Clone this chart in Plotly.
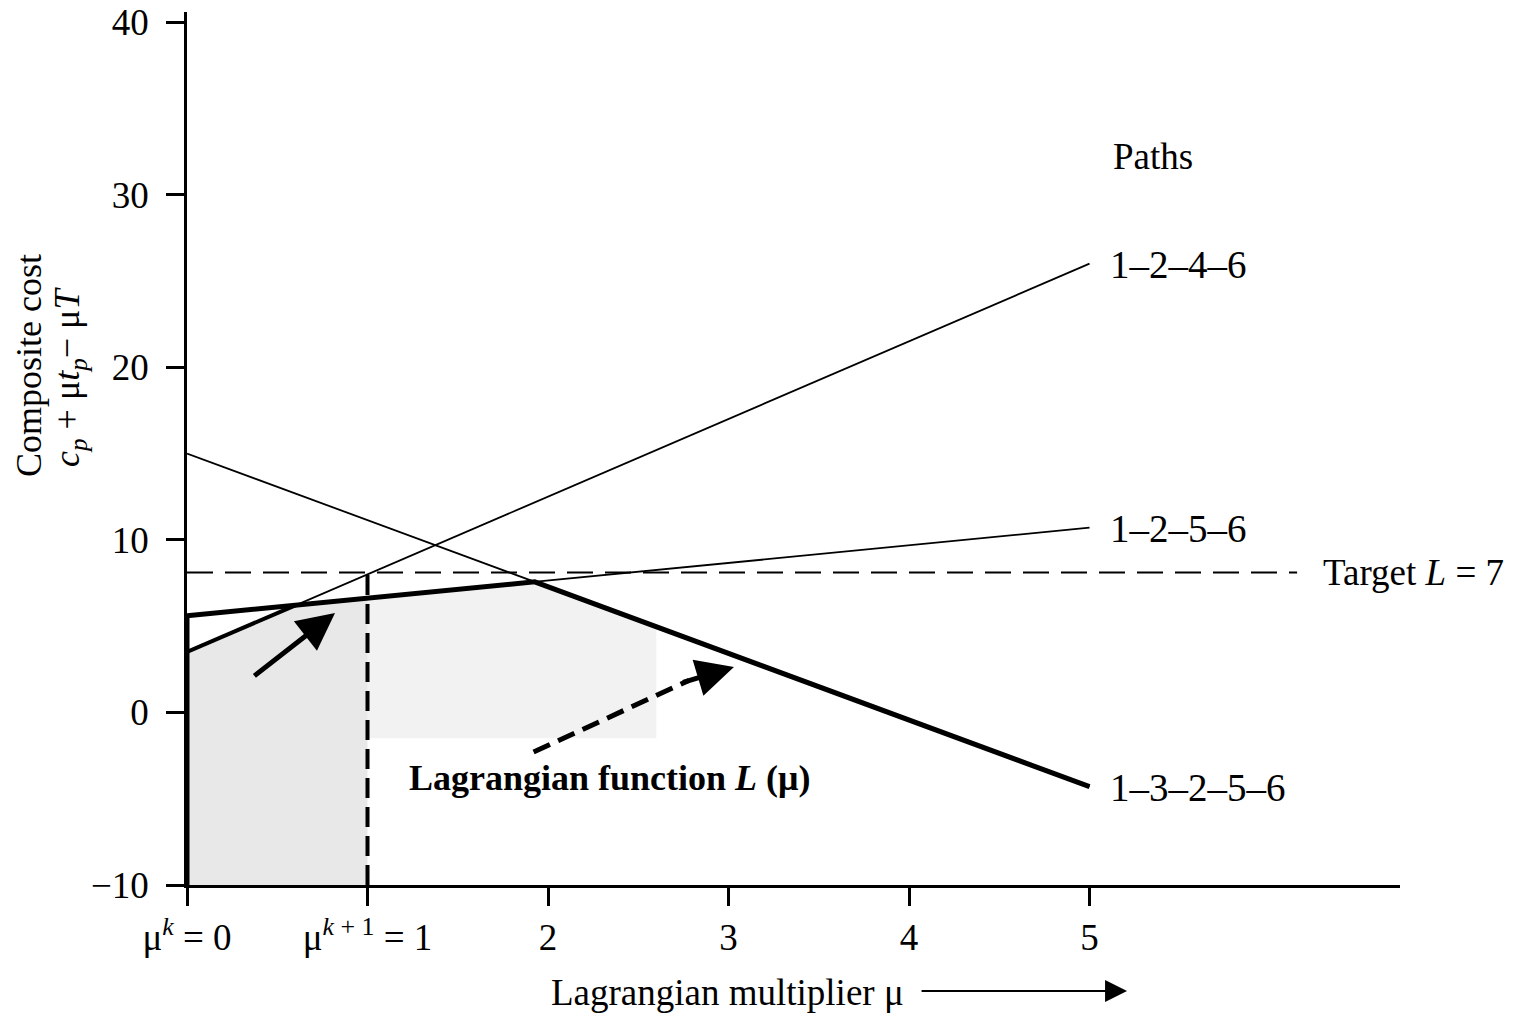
import plotly.graph_objects as go

# ---- data ----
mu_ends = [0, 5]
path_names = ["1–2–4–6", "1–2–5–6", "1–3–2–5–6"]
path_1246 = [3.5, 26.0]
path_1256 = [5.6, 10.7]
path_13256 = [15.0, -4.3]
target_level = 8.1
target_mu_end = 6.15
mu_k = 0
mu_k1 = 1
x_tick_vals = [0, 1, 2, 3, 4, 5]
x_tick_text = ["μ<sup><i>k</i></sup> = 0", "μ<sup><i>k</i> + 1</sup> = 1", "2", "3", "4", "5"]
y_tick_vals = [-10, 0, 10, 20, 30, 40]
y_tick_text = ["−10", "0", "10", "20", "30", "40"]

FONT = "Liberation Serif"
FS = 37


def val(line, m):
    a, b = line
    return a + (b - a) * (m - mu_ends[0]) / (mu_ends[1] - mu_ends[0])


def cross(l1, l2):
    s1 = (l1[1] - l1[0]) / (mu_ends[1] - mu_ends[0])
    s2 = (l2[1] - l2[0]) / (mu_ends[1] - mu_ends[0])
    m = (l2[0] - l1[0]) / (s1 - s2)
    return m, val(l1, m)


m_a, v_a = cross(path_1246, path_1256)
m_b, v_b = cross(path_1256, path_13256)

fig = go.Figure()

# shading under the Lagrangian function
shade_end = 2.6
lag_x = [0, m_a, mu_k1]
lag_y = [val(path_1246, 0), v_a, val(path_1256, mu_k1)]
fig.add_trace(go.Scatter(
    x=[0] + lag_x + [mu_k1, 0], y=[-10] + lag_y + [-10, -10],
    fill="toself", fillcolor="rgba(0,0,0,0.09)", line=dict(width=0),
    mode="lines", hoverinfo="skip", showlegend=False))
lag2_x = [mu_k1, m_b, shade_end]
lag2_y = [val(path_1256, mu_k1), v_b, val(path_13256, shade_end)]
fig.add_trace(go.Scatter(
    x=lag2_x + [shade_end, mu_k1], y=lag2_y + [-1.5, -1.5],
    fill="toself", fillcolor="rgba(0,0,0,0.05)", line=dict(width=0),
    mode="lines", hoverinfo="skip", showlegend=False))

# thin full path lines
for ln in (path_1246, path_1256, path_13256):
    fig.add_trace(go.Scatter(x=mu_ends, y=ln, mode="lines",
                             line=dict(color="black", width=1.8),
                             hoverinfo="skip", showlegend=False))

# target dashed line
fig.add_trace(go.Scatter(x=[0, target_mu_end], y=[target_level, target_level], mode="lines",
                         line=dict(color="black", width=2, dash="26px,12px"),
                         hoverinfo="skip", showlegend=False))

# vertical dashed line at mu^{k+1}
fig.add_trace(go.Scatter(x=[mu_k1, mu_k1], y=[-10, target_level], mode="lines",
                         line=dict(color="black", width=4, dash="20px,9px"),
                         hoverinfo="skip", showlegend=False))

# thick Lagrangian segments
fig.add_trace(go.Scatter(x=[0, m_b, mu_ends[1]],
                         y=[val(path_1256, 0), v_b, val(path_13256, mu_ends[1])],
                         mode="lines", line=dict(color="black", width=5),
                         hoverinfo="skip", showlegend=False))
fig.add_trace(go.Scatter(x=[0, m_a], y=[val(path_1246, 0), v_a],
                         mode="lines", line=dict(color="black", width=4),
                         hoverinfo="skip", showlegend=False))
fig.add_trace(go.Scatter(x=[mu_k, mu_k], y=[-10, val(path_1256, 0)],
                         mode="lines", line=dict(color="black", width=5),
                         hoverinfo="skip", showlegend=False))

# dashed arrow shaft
fig.add_trace(go.Scatter(x=[1.92, 2.78], y=[-2.3, 1.85], mode="lines",
                         line=dict(color="black", width=5, dash="18px,9px"),
                         hoverinfo="skip", showlegend=False))

annotations = []
# solid arrow
annotations.append(dict(x=0.82, y=5.76, ax=0.365, ay=2.05, xref="x", yref="y",
                        axref="x", ayref="y", showarrow=True, arrowhead=2,
                        arrowsize=1.5, arrowwidth=5, arrowcolor="black", text=""))
# dashed arrow head
annotations.append(dict(x=3.03, y=2.63, ax=2.74, ay=1.72, xref="x", yref="y",
                        axref="x", ayref="y", showarrow=True, arrowhead=2,
                        arrowsize=1.5, arrowwidth=5, arrowcolor="black", text=""))
# Lagrangian function label
annotations.append(dict(x=2.34, y=-3.8, xref="x", yref="y", showarrow=False,
                        xanchor="center", yanchor="middle",
                        text="<b>Lagrangian function <i>L</i> (μ)</b>",
                        font=dict(family=FONT, size=36, color="black")))
# path labels
label_y = [val(path_1246, 5), val(path_1256, 5), val(path_13256, 5)]
for name, yy in zip(path_names, label_y):
    annotations.append(dict(x=5.1, y=yy - 0.05, xref="x", yref="y", xanchor="left",
                            yanchor="middle", showarrow=False, text=name,
                            font=dict(family=FONT, size=FS + 2, color="black")))
annotations.append(dict(x=5.12, y=32.2, xref="x", yref="y", xanchor="left",
                        yanchor="middle", showarrow=False, text="Paths",
                        font=dict(family=FONT, size=FS, color="black")))
annotations.append(dict(x=6.28, y=target_level, xref="x", yref="y", xanchor="left",
                        yanchor="middle", showarrow=False, text="Target <i>L</i> = 7",
                        font=dict(family=FONT, size=FS, color="black")))
# axis titles (paper coordinates, outside the plot area)
annotations.append(dict(x=0.4452, y=-0.1237, xref="paper", yref="paper", showarrow=False,
                        xanchor="center", yanchor="middle",
                        text="Lagrangian multiplier μ",
                        font=dict(family=FONT, size=FS, color="black")))
annotations.append(dict(x=0.775, y=-0.1214, ax=-207, ay=0, xref="paper", yref="paper",
                        showarrow=True, arrowhead=2,
                        arrowsize=2.2, arrowwidth=2, arrowcolor="black", text=""))
annotations.append(dict(x=-0.1302, y=0.5945, xref="paper", yref="paper", showarrow=False,
                        xanchor="center", yanchor="middle",
                        textangle=-90, text="Composite cost",
                        font=dict(family=FONT, size=36, color="black")))
annotations.append(dict(x=-0.0973, y=0.5819, xref="paper", yref="paper", showarrow=False,
                        xanchor="center", yanchor="middle",
                        textangle=-90,
                        text="<i>c<sub>p</sub></i> + μ<i>t<sub>p</sub></i>− μ<i>T</i>",
                        font=dict(family=FONT, size=36, color="black")))

# the page body has an 8px default margin, so the figure is 8px smaller each way
fig.update_layout(
    width=1506, height=1007,
    margin=dict(l=179, r=114, t=4, b=130, autoexpand=False),
    paper_bgcolor="white", plot_bgcolor="white",
    showlegend=False,
    annotations=annotations,
    font=dict(family=FONT, size=FS, color="black"),
    xaxis=dict(range=[0, 6.72], showgrid=False, zeroline=False, showline=True,
               linecolor="black", linewidth=3, ticks="outside", ticklen=18,
               tickwidth=2.5, tickcolor="black", tickvals=x_tick_vals, automargin=False,
               ticklabeloverflow="allow",
               ticktext=x_tick_text, tickfont=dict(family=FONT, size=FS, color="black")),
    yaxis=dict(range=[-10, 40.58], showgrid=False, zeroline=False, showline=True,
               linecolor="black", linewidth=2.5, ticks="outside", ticklen=18,
               tickwidth=2.5, tickcolor="black", tickvals=y_tick_vals, automargin=False,
               ticklabelstandoff=10, ticklabeloverflow="allow",
               ticktext=y_tick_text, tickfont=dict(family=FONT, size=FS, color="black")),
)

fig.write_html("out.html")
